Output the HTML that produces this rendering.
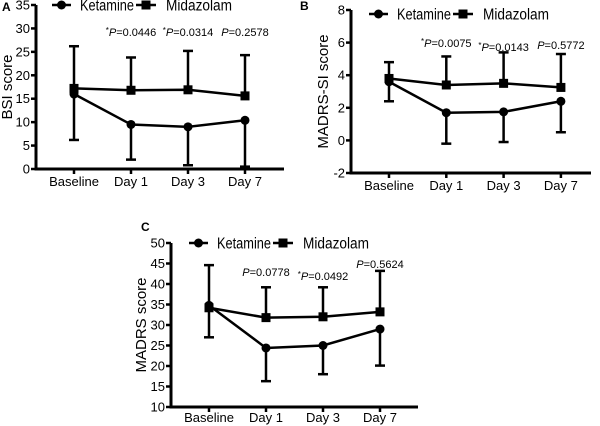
<!DOCTYPE html>
<html><head><meta charset="utf-8"><style>
html,body{margin:0;padding:0;background:#fff;}
svg{display:block;font-family:"Liberation Sans",Arial,sans-serif;}
</style></head><body>
<svg id="fig" width="600" height="426" viewBox="0 0 600 426" xmlns="http://www.w3.org/2000/svg"></svg>
<script>
const categories = ["Baseline","Day 1","Day 3","Day 7"];
// Panel A
const aKetamine = [16.0, 9.5, 9.0, 10.4];
const aKetamineLow = [6.2, 2.0, 0.8, 0.5];
const aMidazolam = [17.2, 16.8, 16.9, 15.6];
const aMidazolamHigh = [26.2, 23.8, 25.2, 24.3];
const aTicks = [0,5,10,15,20,25,30,35];
const aPLabels = ["*P=0.0446","*P=0.0314","P=0.2578"];
// Panel B
const bKetamine = [3.6, 1.7, 1.75, 2.4];
const bKetamineLow = [2.4, -0.2, -0.1, 0.5];
const bMidazolam = [3.8, 3.4, 3.5, 3.25];
const bMidazolamHigh = [4.8, 5.15, 5.4, 5.3];
const bTicks = [-2,0,2,4,6,8];
const bPLabels = ["*P=0.0075","*P=0.0143","P=0.5772"];
// Panel C
const cKetamine = [34.8, 24.4, 25.0, 29.0];
const cKetamineLow = [27.0, 16.3, 18.0, 20.1];
const cMidazolam = [34.2, 31.8, 32.0, 33.2];
const cMidazolamHigh = [44.6, 39.2, 39.2, 43.2];
const cTicks = [10,15,20,25,30,35,40,45,50];
const cPLabels = ["P=0.0778","*P=0.0492","P=0.5624"];

const NS="http://www.w3.org/2000/svg";
const svg=document.getElementById('fig');
function mk(tag,attrs,parent){const e=document.createElementNS(NS,tag);for(const k in attrs)e.setAttribute(k,attrs[k]);(parent||svg).appendChild(e);return e;}

function panel(cfg){
  const g=mk('g',{});
  
  
  const y=v=>cfg.y0+(v-cfg.vmin)/(cfg.vmax-cfg.vmin)*(cfg.y1-cfg.y0);
  const x=i=>cfg.xs0+i*cfg.step;
  const base=y(cfg.vmin), top=y(cfg.vmax);
  const lab=mk('text',{x:cfg.labX,y:cfg.labY,'font-size':12,'font-weight':'bold'},g);lab.textContent=cfg.id;
  
  
  const ya=mk('line',{x1:cfg.ax,y1:top,x2:cfg.ax,y2:base+1.5,stroke:'#000','stroke-width':3},g);
  
  
  const xa=mk('line',{x1:cfg.ax-1.5,y1:base,x2:cfg.axEnd,y2:base,stroke:'#000','stroke-width':3},g);
  
  
  cfg.ticks.forEach(t=>{
    mk('line',{x1:cfg.ax-5,y1:y(t),x2:cfg.ax,y2:y(t),stroke:'#000','stroke-width':2.5},g);
    const tl=mk('text',{x:cfg.ax-6,y:y(t)+4.5,'font-size':13,'text-anchor':'end'},g);tl.textContent=t;
    
    
  });
  categories.forEach((c,i)=>{
    mk('line',{x1:x(i),y1:base,x2:x(i),y2:base+5,stroke:'#000','stroke-width':2.5},g);
    const tl=mk('text',{x:x(i),y:base+cfg.xLabOff,'font-size':13,'text-anchor':'middle'},g);tl.textContent=c;
    
    
  });
  const cy=(top+base)/2;
  const yt=mk('text',{x:cfg.titleX,y:cy,'font-size':15,'text-anchor':'middle',transform:`rotate(-90 ${cfg.titleX} ${cy})`},g);yt.textContent=cfg.title;
  
  
  function err(vals,ends,name){
    vals.forEach((v,i)=>{
      const eg=mk('g',{stroke:'#000','stroke-width':2.5},g);
      
      
      mk('line',{x1:x(i),y1:y(v),x2:x(i),y2:y(ends[i])},eg);
      mk('line',{x1:x(i)-5,y1:y(ends[i]),x2:x(i)+5,y2:y(ends[i])},eg);
    });
  }
  err(cfg.k,cfg.kLow,'ketamine');
  err(cfg.m,cfg.mHigh,'midazolam');
  const lk=mk('polyline',{points:cfg.k.map((v,i)=>x(i)+','+y(v)).join(' '),fill:'none',stroke:'#000','stroke-width':2.5},g);
  
  
  const lm=mk('polyline',{points:cfg.m.map((v,i)=>x(i)+','+y(v)).join(' '),fill:'none',stroke:'#000','stroke-width':2.5},g);
  
  
  cfg.k.forEach((v,i)=>{const p=mk('circle',{cx:x(i),cy:y(v),r:4.5,fill:'#000'},g);
    
    });
  cfg.m.forEach((v,i)=>{const p=mk('rect',{x:x(i)-4.5,y:y(v)-4.5,width:9,height:9,fill:'#000'},g);
    
    });
  cfg.p.forEach((s,i)=>{
    const t=mk('text',{x:x(i+1),y:cfg.pY[i],'font-size':11,'text-anchor':'middle'},g);
    const star=s.startsWith('*');
    if(star){const a=mk('tspan',{'font-size':8,dy:-3},t);a.textContent='*';}
    const b=mk('tspan',{'font-style':'italic'},t);b.textContent='P';
    if(star)b.setAttribute('dy',3);
    const r=mk('tspan',{},t);r.textContent=s.replace('*','').slice(1);
    
    
  });
  const lg=mk('g',{},g);
  
  
  const lx=cfg.legX, ly=cfg.legY;
  mk('line',{x1:lx,y1:ly,x2:lx+19,y2:ly,stroke:'#000','stroke-width':2.5},lg);
  mk('circle',{cx:lx+9.5,cy:ly,r:4.5,fill:'#000'},lg);
  const t1=mk('text',{x:lx+28,y:ly+5.5,'font-size':15.5,textLength:54,lengthAdjust:'spacingAndGlyphs'},lg);t1.textContent='Ketamine';
  
  
  mk('line',{x1:lx+84,y1:ly,x2:lx+104,y2:ly,stroke:'#000','stroke-width':2.5},lg);
  mk('rect',{x:lx+89.5,y:ly-4.5,width:9,height:9,fill:'#000'},lg);
  const t2=mk('text',{x:lx+114,y:ly+5.5,'font-size':15.5,textLength:66,lengthAdjust:'spacingAndGlyphs'},lg);t2.textContent='Midazolam';
  
  
}

panel({id:'A',labX:2,labY:11,ax:36,axEnd:284,y0:169,y1:5,vmin:0,vmax:35,xs0:74,step:57,ticks:aTicks,titleX:12,title:'BSI score',xLabOff:17,
  k:aKetamine,kLow:aKetamineLow,m:aMidazolam,mHigh:aMidazolamHigh,p:aPLabels,pY:[36,36,36],legX:52,legY:5});
panel({id:'B',labX:300,labY:10,ax:351,axEnd:591,y0:173,y1:10,vmin:-2,vmax:8,xs0:389,step:57.3,ticks:bTicks,titleX:328,title:'MADRS-SI score',xLabOff:17,
  k:bKetamine,kLow:bKetamineLow,m:bMidazolam,mHigh:bMidazolamHigh,p:bPLabels,pY:[47,51,49],legX:369,legY:14});
panel({id:'C',labX:141,labY:231,ax:171,axEnd:418,y0:407,y1:243,vmin:10,vmax:50,xs0:209,step:57,ticks:cTicks,titleX:146,title:'MADRS score',xLabOff:15,
  k:cKetamine,kLow:cKetamineLow,m:cMidazolam,mHigh:cMidazolamHigh,p:cPLabels,pY:[276,280,268],legX:189,legY:243});
</script>
</body></html>
